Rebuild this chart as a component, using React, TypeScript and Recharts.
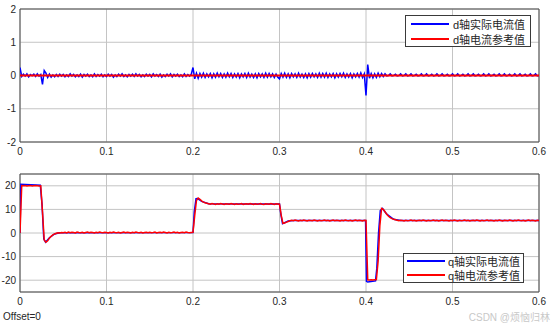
import {
  LineChart,
  Line,
  XAxis,
  YAxis,
  CartesianGrid,
  ReferenceArea,
  Legend,
} from "recharts";

const FONT = '"Liberation Sans", Arial, "Noto Sans CJK SC", sans-serif';

const timeTicks = [0, 0.1, 0.2, 0.3, 0.4, 0.5, 0.6];
const dTicks = [-2, -1, 0, 1, 2];
const qTicks = [-20, -10, 0, 10, 20];

const dNames = ["d轴实际电流值", "d轴电流参考值"];
const qNames = ["q轴实际电流值", "q轴电流参考值"];

// scope samples every 2 ms, 0 .. 0.6 s
const sampleTime = Array.from({ length: 301 }, (_, i) => +(i * 0.002).toFixed(3));

// d-axis measured current, one row per 0.05 s
const dActual = [
  0.24, -0.03, 0.04, -0.02, 0.05, -0.04, 0.03, -0.01, 0.04, -0.03, 0.05, -0.02, 0.03, -0.27, 0.15, 0.07, -0.06, 0.04, -0.05, 0.02, -0.04, 0.03, -0.03, 0.04, -0.02,
  0.03, -0.04, 0.02, -0.03, 0.05, -0.02, 0.03, -0.04, 0.02, -0.03, 0.04, -0.05, 0.03, -0.02, 0.04, -0.03, 0.02, -0.04, 0.05, -0.03, 0.03, -0.02, 0.04, -0.04, 0.02,
  -0.03, 0.04, -0.02, 0.03, -0.05, 0.02, -0.03, 0.04, -0.02, 0.05, -0.03, 0.02, -0.04, 0.03, -0.02, 0.04, -0.03, 0.05, -0.02, 0.03, -0.04, 0.02, -0.03, 0.04, -0.02,
  0.03, -0.04, 0.05, -0.02, 0.03, -0.03, 0.04, -0.05, 0.02, -0.03, 0.04, -0.02, 0.05, -0.04, 0.03, -0.02, 0.04, -0.03, 0.02, -0.04, 0.05, -0.03, 0.03, -0.02, 0.04,
  0.24, -0.1, 0.07, -0.08, 0.06, -0.05, 0.07, -0.06, 0.05, -0.04, 0.06, -0.07, 0.05, -0.05, 0.07, -0.04, 0.06, -0.06, 0.05, -0.05, 0.07, -0.04, 0.06, -0.06, 0.05,
  -0.05, 0.06, -0.07, 0.05, -0.04, 0.06, -0.06, 0.07, -0.05, 0.04, -0.06, 0.05, -0.07, 0.06, -0.04, 0.05, -0.06, 0.07, -0.05, 0.06, -0.04, 0.05, -0.06, 0.04, -0.05,
  -0.1, 0.06, -0.05, 0.07, -0.06, 0.05, -0.07, 0.06, -0.04, 0.05, -0.06, 0.07, -0.05, 0.04, -0.06, 0.05, -0.07, 0.06, -0.05, 0.06, -0.04, 0.05, -0.06, 0.07, -0.05,
  0.06, -0.05, 0.07, -0.06, 0.05, -0.04, 0.06, -0.07, 0.05, -0.05, 0.06, -0.04, 0.07, -0.06, 0.05, -0.05, 0.06, -0.07, 0.05, -0.04, 0.06, -0.05, 0.08, -0.06, 0.05,
  -0.6, 0.33, -0.08, 0.06, -0.07, 0.05, -0.06, 0.07, -0.04, 0.06, -0.03, 0.05, -0.01, 0.0, 0.05, -0.01, 0.0, 0.04, -0.01, 0.0, 0.05, -0.01, 0.0, 0.05, -0.01,
  0.0, 0.05, -0.01, 0.0, 0.04, -0.01, 0.0, 0.05, -0.01, 0.0, 0.05, -0.01, 0.0, 0.04, -0.01, 0.0, 0.05, -0.01, 0.0, 0.05, -0.01, 0.0, 0.04, -0.01, 0.0,
  0.05, -0.01, 0.0, 0.05, -0.01, 0.0, 0.04, -0.01, 0.0, 0.05, -0.01, 0.0, 0.05, -0.01, 0.0, 0.04, -0.01, 0.0, 0.05, -0.01, 0.0, 0.05, -0.01, 0.0, 0.04,
  -0.01, 0.0, 0.05, -0.01, 0.0, 0.05, -0.01, 0.0, 0.04, -0.01, 0.0, 0.05, -0.01, 0.0, 0.05, -0.01, 0.0, 0.04, -0.01, 0.0, 0.05, -0.01, 0.0, 0.05, -0.01,
  0.0,
];

const dRefTime = [0, 0.6];
const dRefValue = [0, 0];

// q-axis reference current (red), same 2 ms grid
const qRef = [
  0, 20.1, 20.0, 20.1, 19.9, 20.0, 20.1, 19.9, 20.0, 20.1, 20.0, 19.9, 20.0, 9, -3.0, -3.9, -3.3, -2.2, -1.4, -0.8, -0.4, -0.1, 0.1, 0.0, 0.2,
  0.1, 0.3, 0.0, 0.4, 0.1, 0.3, 0.2, 0.0, 0.4, 0.2, 0.1, 0.3, 0.0, 0.2, 0.4, 0.1, 0.3, 0.2, 0.0, 0.3, 0.1, 0.4, 0.2, 0.1, 0.3,
  0.2, 0.0, 0.3, 0.1, 0.4, 0.2, 0.1, 0.3, 0.0, 0.2, 0.4, 0.1, 0.3, 0.2, 0.0, 0.3, 0.1, 0.4, 0.2, 0.1, 0.3, 0.0, 0.2, 0.3, 0.1,
  0.3, 0.1, 0.2, 0.4, 0.0, 0.2, 0.3, 0.1, 0.4, 0.2, 0.0, 0.3, 0.1, 0.2, 0.4, 0.1, 0.3, 0.0, 0.2, 0.3, 0.1, 0.4, 0.2, 0.1, 0.2,
  0.3, 7.5, 13.8, 14.8, 14.3, 13.6, 13.1, 12.8, 12.6, 12.4, 12.2, 12.5, 12.3, 12.1, 12.4, 12.2, 12.5, 12.3, 12.1, 12.4, 12.3, 12.2, 12.5, 12.3, 12.1,
  12.4, 12.2, 12.3, 12.5, 12.1, 12.3, 12.4, 12.2, 12.5, 12.3, 12.1, 12.4, 12.2, 12.3, 12.5, 12.2, 12.1, 12.4, 12.3, 12.2, 12.5, 12.3, 12.1, 12.4, 12.3,
  12.2, 7.5, 4.1, 4.2, 4.6, 4.9, 5.2, 5.4, 5.2, 5.5, 5.3, 5.1, 5.4, 5.2, 5.5, 5.3, 5.1, 5.4, 5.3, 5.2, 5.5, 5.3, 5.1, 5.4, 5.2,
  5.3, 5.5, 5.2, 5.4, 5.1, 5.3, 5.5, 5.2, 5.4, 5.3, 5.1, 5.4, 5.2, 5.5, 5.3, 5.2, 5.4, 5.1, 5.3, 5.5, 5.2, 5.4, 5.3, 5.1, 5.4,
  5.3, -19.8, -19.9, -19.8, -19.9, -19.8, -19.7, -12, 3, 10.4, 10.0, 9.0, 7.9, 7.1, 6.5, 6.1, 5.8, 5.6, 5.4, 5.2, 5.4, 5.3, 5.1, 5.4, 5.2,
  5.3, 5.5, 5.2, 5.4, 5.1, 5.3, 5.4, 5.2, 5.5, 5.3, 5.1, 5.4, 5.2, 5.3, 5.5, 5.2, 5.4, 5.1, 5.3, 5.5, 5.2, 5.4, 5.3, 5.1, 5.4,
  5.2, 5.5, 5.3, 5.1, 5.4, 5.2, 5.3, 5.5, 5.2, 5.4, 5.1, 5.3, 5.4, 5.2, 5.5, 5.3, 5.1, 5.4, 5.2, 5.3, 5.5, 5.2, 5.4, 5.3, 5.1,
  5.4, 5.2, 5.5, 5.3, 5.1, 5.4, 5.3, 5.2, 5.5, 5.3, 5.1, 5.4, 5.2, 5.5, 5.3, 5.2, 5.4, 5.1, 5.3, 5.5, 5.2, 5.4, 5.3, 5.1, 5.4,
  5.3,
];

// q-axis measured current (blue), mostly hidden under the reference
const qActualTime = [
  0, 0.001, 0.0235, 0.0255, 0.0275, 0.0295, 0.034, 0.04, 0.046, 0.2, 0.2015, 0.2035, 0.2055, 0.21, 0.218,
  0.3, 0.3015, 0.3035, 0.31, 0.316, 0.3995, 0.4005, 0.402, 0.411, 0.4125, 0.4145, 0.4165, 0.419, 0.424, 0.432, 0.44, 0.6,
];
const qActualValue = [
  0, 20.6, 20.2, 12, -2.5, -3.9, -2.0, -0.4, 0.1, 0.2, 9, 14.5, 14.6, 13.4, 12.4,
  12.3, 8, 4.0, 5.1, 5.3, 5.3, -20.5, -20.8, -20.3, -15, 0, 9.5, 10.4, 8.0, 5.8, 5.3, 5.3,
];

const toPoints = (ts: number[], vs: number[]) => ts.map((t, i) => ({ t, v: vs[i] }));

const tickStyle = { fontSize: 10, fill: "#262626", fontFamily: FONT };

const makeLegend = (padX: number, gap: number, rowH: number) =>
  function LegendBox(props: any) {
    const items = props.payload ?? [];
    return (
      <div
        style={{
          display: "inline-block",
          border: "1px solid #3a3a3a",
          background: "#fff",
          padding: `0 ${padX}px`,
          fontFamily: FONT,
          fontSize: 11,
          color: "#262626",
        }}
      >
        {items.map((p: any) => (
          <div key={p.value} style={{ display: "flex", alignItems: "center", height: rowH }}>
            <span style={{ display: "inline-block", width: 38, height: 2, background: p.color, marginRight: gap }} />
            <span style={{ whiteSpace: "nowrap" }}>{p.value}</span>
          </div>
        ))}
      </div>
    );
  };

const TopLegend = makeLegend(5, 4, 15);
const BottomLegend = makeLegend(3, 3, 14);

const xAxisProps = {
  dataKey: "t",
  type: "number" as const,
  domain: [0, 0.6],
  ticks: timeTicks,
  interval: 0 as const,
  tickLine: false,
  axisLine: false,
  tickSize: 0,
  tickMargin: 6,
  height: 20,
  tick: tickStyle,
  allowDataOverflow: true,
};

export default function App() {
  return (
    <div style={{ position: "absolute", left: 0, top: 0, width: 554, height: 329, background: "#fff" }}>
      <div style={{ position: "absolute", left: 0, top: 0 }}>
        <LineChart width={554} height={165} margin={{ top: 9, right: 15, bottom: 3, left: 0 }}>
          <CartesianGrid stroke="#c4c4c4" />
          <XAxis {...xAxisProps} />
          <YAxis
            type="number"
            domain={[-2, 2]}
            ticks={dTicks}
            interval={0}
            width={20}
            tickLine={false}
            axisLine={false}
            tickSize={0}
            tickMargin={4}
            tick={tickStyle}
            allowDataOverflow
          />
          <ReferenceArea x1={0} x2={0.6} y1={-2} y2={2} fill="#fff" fillOpacity={0} stroke="#4a4a4a" strokeWidth={1} />
          <Line
            data={toPoints(sampleTime, dActual)}
            dataKey="v"
            name={dNames[0]}
            type="linear"
            stroke="#0000ff"
            strokeWidth={1.5}
            dot={false}
            isAnimationActive={false}
          />
          <Line
            data={toPoints(dRefTime, dRefValue)}
            dataKey="v"
            name={dNames[1]}
            type="linear"
            stroke="#ff0000"
            strokeWidth={2}
            dot={false}
            isAnimationActive={false}
          />
          <Legend
            layout="vertical"
            align="center"
            verticalAlign="middle"
            content={TopLegend}
            wrapperStyle={{ left: 405, top: 15, width: 140 }}
          />
        </LineChart>
      </div>
      <div style={{ position: "absolute", left: 0, top: 165 }}>
        <LineChart width={554} height={150} margin={{ top: 9, right: 15, bottom: 3, left: 0 }}>
          <CartesianGrid stroke="#c4c4c4" />
          <XAxis {...xAxisProps} />
          <YAxis
            type="number"
            domain={[-25, 25]}
            ticks={qTicks}
            interval={0}
            width={20}
            tickLine={false}
            axisLine={false}
            tickSize={0}
            tickMargin={4}
            tick={tickStyle}
            allowDataOverflow
          />
          <ReferenceArea x1={0} x2={0.6} y1={-25} y2={25} fill="#fff" fillOpacity={0} stroke="#4a4a4a" strokeWidth={1} />
          <Line
            data={toPoints(qActualTime, qActualValue)}
            dataKey="v"
            name={qNames[0]}
            type="linear"
            stroke="#0000ff"
            strokeWidth={1.5}
            dot={false}
            isAnimationActive={false}
          />
          <Line
            data={toPoints(sampleTime, qRef)}
            dataKey="v"
            name={qNames[1]}
            type="linear"
            stroke="#ff0000"
            strokeWidth={1.5}
            dot={false}
            isAnimationActive={false}
          />
          <Legend
            layout="vertical"
            align="center"
            verticalAlign="middle"
            content={BottomLegend}
            wrapperStyle={{ left: 403, top: 88, width: 140 }}
          />
        </LineChart>
      </div>
      <div
        style={{
          position: "absolute",
          left: 3,
          top: 311,
          fontFamily: FONT,
          fontSize: 10,
          lineHeight: "12px",
          color: "#262626",
        }}
      >
        Offset=0
      </div>
      <div
        style={{
          position: "absolute",
          right: 4,
          top: 312,
          fontFamily: FONT,
          fontSize: 10,
          lineHeight: "12px",
          color: "#c8c8c8",
        }}
      >
        CSDN @烦恼归林
      </div>
    </div>
  );
}
